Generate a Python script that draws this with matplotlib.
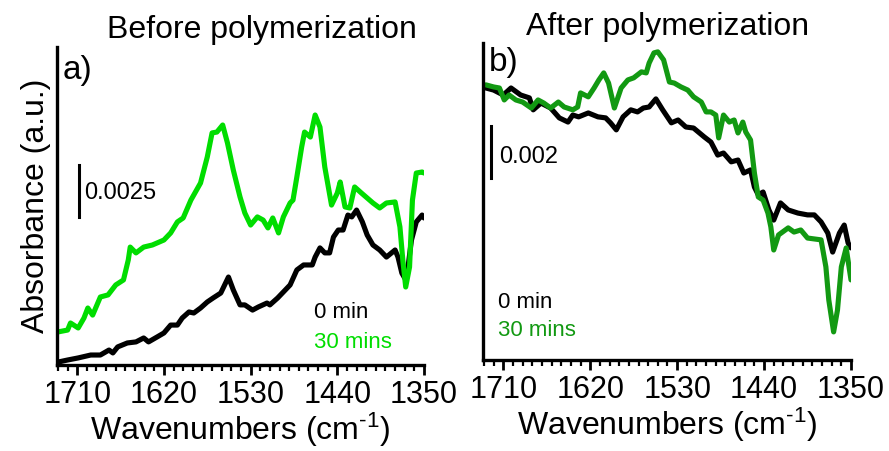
import matplotlib
matplotlib.use("Agg")
import matplotlib.pyplot as plt
from matplotlib.ticker import MultipleLocator
import numpy as np

plt.rcParams['font.family'] = ['Liberation Sans', 'DejaVu Sans']
plt.rcParams['mathtext.fontset'] = 'custom'
plt.rcParams['mathtext.rm'] = 'Liberation Sans'
plt.rcParams['mathtext.sf'] = 'Liberation Sans'
plt.rcParams['mathtext.it'] = 'Liberation Sans:italic'

# ---------------- data (absorbance x 1e-3) ----------------
a_green_wn = [1730, 1720, 1717, 1709, 1703, 1699, 1694, 1686, 1678, 1670, 1662, 1657, 1655, 1649,
              1641, 1632, 1627, 1620, 1613, 1606, 1600, 1592, 1582, 1575, 1570, 1565, 1559, 1554,
              1548, 1541, 1536, 1530, 1523, 1517, 1512, 1507, 1501, 1496, 1489, 1486, 1482, 1477,
              1474, 1468, 1463, 1458, 1453, 1446, 1440, 1437, 1432, 1427, 1422, 1415, 1409, 1403,
              1396, 1389, 1380, 1375, 1372, 1369, 1365, 1362, 1358, 1352, 1350]
a_green_ab = [1.59, 1.68, 2.02, 1.78, 2.26, 2.74, 2.40, 3.27, 3.37, 3.85, 4.09, 5.05, 5.67, 5.39,
              5.67, 5.77, 5.87, 6.01, 6.35, 6.88, 7.07, 7.93, 8.75, 10.00, 11.16, 11.20, 11.54, 10.67,
              9.38, 8.08, 7.31, 6.73, 7.12, 6.97, 6.59, 7.07, 6.35, 7.12, 7.79, 7.93, 9.04, 10.48,
              11.20, 10.96, 12.02, 11.44, 9.52, 7.69, 8.27, 8.80, 7.60, 7.55, 8.56, 8.27, 8.03, 7.79,
              7.55, 7.79, 7.84, 6.64, 5.05, 3.75, 4.71, 7.93, 9.23, 9.28, 9.23]

a_black_wn = [1730, 1720, 1709, 1696, 1686, 1677, 1673, 1668, 1658, 1649, 1641, 1636, 1627, 1620,
              1613, 1606, 1601, 1594, 1589, 1582, 1575, 1569, 1561, 1553, 1548, 1541, 1536, 1528,
              1522, 1513, 1510, 1502, 1496, 1489, 1482, 1475, 1466, 1463, 1458, 1453, 1448, 1444,
              1439, 1434, 1429, 1425, 1420, 1414, 1409, 1403, 1396, 1389, 1380, 1377, 1373, 1370,
              1367, 1363, 1358, 1352, 1350]
a_black_ab = [0.14, 0.24, 0.34, 0.48, 0.48, 0.72, 0.58, 0.87, 1.06, 1.11, 1.30, 1.11, 1.35, 1.54,
              1.92, 1.92, 2.26, 2.55, 2.50, 2.74, 3.03, 3.22, 3.46, 4.23, 3.61, 2.89, 2.89, 2.64,
              2.79, 2.98, 2.89, 3.22, 3.51, 3.85, 4.57, 4.81, 4.81, 5.19, 5.63, 5.39, 5.39, 6.15,
              6.49, 6.49, 7.21, 7.12, 7.45, 6.88, 6.25, 5.77, 5.53, 5.19, 5.53, 5.19, 4.42, 4.18,
              4.57, 6.01, 6.88, 7.21, 7.07]

b_green_wn = [1728, 1720, 1714, 1709, 1704, 1697, 1690, 1681, 1674, 1668, 1661, 1653, 1647, 1638,
              1633, 1630, 1622, 1616, 1611, 1606, 1601, 1595, 1588, 1581, 1575, 1567, 1562, 1559,
              1554, 1550, 1544, 1538, 1533, 1526, 1519, 1513, 1505, 1500, 1495, 1490, 1487, 1482,
              1476, 1471, 1467, 1462, 1459, 1454, 1450, 1446, 1441, 1436, 1433, 1430, 1425, 1415,
              1409, 1402, 1395, 1381, 1376, 1373, 1368, 1364, 1360, 1355, 1350]
b_green_ab = [10.58, 10.50, 10.46, 10.00, 10.19, 10.00, 9.92, 9.69, 10.00, 9.88, 9.69, 9.92, 9.73, 9.62,
              9.73, 10.27, 10.12, 10.46, 10.77, 11.04, 10.65, 9.69, 10.46, 10.77, 10.85, 11.08, 11.04, 11.42,
              11.81, 11.85, 11.54, 10.69, 10.65, 10.50, 10.38, 10.12, 9.92, 9.54, 9.54, 9.42, 8.54, 9.42,
              9.15, 9.23, 8.73, 9.15, 8.77, 8.46, 7.19, 6.27, 6.15, 5.65, 5.12, 4.23, 4.81, 5.08,
              4.92, 5.00, 4.69, 4.62, 3.58, 2.31, 1.08, 1.92, 3.58, 4.31, 3.08]

b_black_wn = [1728, 1720, 1710, 1702, 1692, 1683, 1679, 1671, 1661, 1652, 1643, 1638, 1632, 1622,
              1612, 1604, 1599, 1593, 1586, 1578, 1571, 1565, 1559, 1552, 1545, 1536, 1529, 1521,
              1513, 1502, 1495, 1488, 1482, 1474, 1467, 1461, 1454, 1450, 1446, 1441, 1435, 1430,
              1423, 1415, 1405, 1395, 1388, 1381, 1374, 1369, 1362, 1357, 1353, 1350]
b_black_ab = [10.46, 10.38, 10.19, 10.46, 10.19, 10.08, 9.62, 9.88, 9.69, 9.31, 9.15, 9.42, 9.35, 9.50,
              9.35, 9.31, 9.12, 8.85, 9.35, 9.62, 9.54, 9.69, 9.73, 10.04, 9.62, 9.12, 9.23, 8.96,
              8.92, 8.58, 8.38, 7.88, 7.96, 7.62, 7.69, 7.19, 7.31, 6.65, 6.35, 6.46, 5.77, 5.38,
              6.04, 5.77, 5.65, 5.58, 5.58, 5.31, 4.88, 4.15, 4.88, 5.19, 4.50, 4.31]

xticks = [1710, 1620, 1530, 1440, 1350]
titles = ["Before polymerization", "After polymerization"]
panel_labels = ["a)", "b)"]
legend_labels = ["0 min", "30 mins"]
scale_values = ["0.0025", "0.002"]

# ---------------- figure ----------------
W, H = 889, 451
fig = plt.figure(figsize=(W / 100, H / 100), dpi=100)

def fx(px):
    return px / W

def fy(py):
    return 1 - py / H

green_a = '#00dd00'
green_b = '#129912'

axA = fig.add_axes([fx(57), fy(365), fx(424) - fx(57), fy(47) - fy(365)])
axB = fig.add_axes([fx(483), fy(360), fx(851) - fx(483), fy(43) - fy(360)])

def style(ax, ylim):
    ax.set_xlim(1731, 1350)
    ax.set_ylim(*ylim)
    for s in ['top', 'right']:
        ax.spines[s].set_visible(False)
    for s in ['left', 'bottom']:
        ax.spines[s].set_linewidth(2.4)
    ax.set_yticks([])
    ax.set_xticks(xticks)
    ax.xaxis.set_minor_locator(MultipleLocator(10))
    ax.tick_params(axis='x', which='major', length=7, width=2, labelsize=22, pad=4, direction='out')
    ax.tick_params(axis='x', which='minor', length=4, width=1.6, direction='out')
    ax.set_xlabel('Wavenumbers (cm$^{\\text{-1}}$)', fontsize=23, labelpad=0)

style(axA, (0, 15.29))
style(axB, (0, 12.19))

lw = 3.7
axA.plot(a_black_wn, a_black_ab, color='black', lw=lw, solid_joinstyle='round', solid_capstyle='round')
axA.plot(a_green_wn, a_green_ab, color=green_a, lw=lw, solid_joinstyle='round', solid_capstyle='round')
axB.plot(b_black_wn, b_black_ab, color='black', lw=lw, solid_joinstyle='round', solid_capstyle='round')
axB.plot(b_green_wn, b_green_ab, color=green_b, lw=lw, solid_joinstyle='round', solid_capstyle='round')

axA.set_ylabel('Absorbance (a.u.)', fontsize=23, labelpad=4)

# scale bars
axA.plot([1708, 1708], [7.12, 9.62], color='black', lw=2.2)
axB.plot([1723, 1723], [7.0, 9.0], color='black', lw=2.2)

# texts
fig.text(fx(262), fy(30), titles[0], fontsize=23, ha='center', va='center')
fig.text(fx(668), fy(27), titles[1], fontsize=23, ha='center', va='center')
fig.text(fx(63), fy(70), panel_labels[0], fontsize=24, ha='left', va='center')
fig.text(fx(489), fy(63), panel_labels[1], fontsize=24, ha='left', va='center')
fig.text(fx(84), fy(193), scale_values[0], fontsize=17, ha='left', va='center')
fig.text(fx(499), fy(157), scale_values[1], fontsize=17, ha='left', va='center')
fig.text(fx(314), fy(313), legend_labels[0], fontsize=16, ha='left', va='center', color='black')
fig.text(fx(314), fy(343), legend_labels[1], fontsize=16, ha='left', va='center', color=green_a)
fig.text(fx(498), fy(302), legend_labels[0], fontsize=16, ha='left', va='center', color='black')
fig.text(fx(498), fy(331), legend_labels[1], fontsize=16, ha='left', va='center', color=green_b)

fig.savefig('out.png', dpi=100)
